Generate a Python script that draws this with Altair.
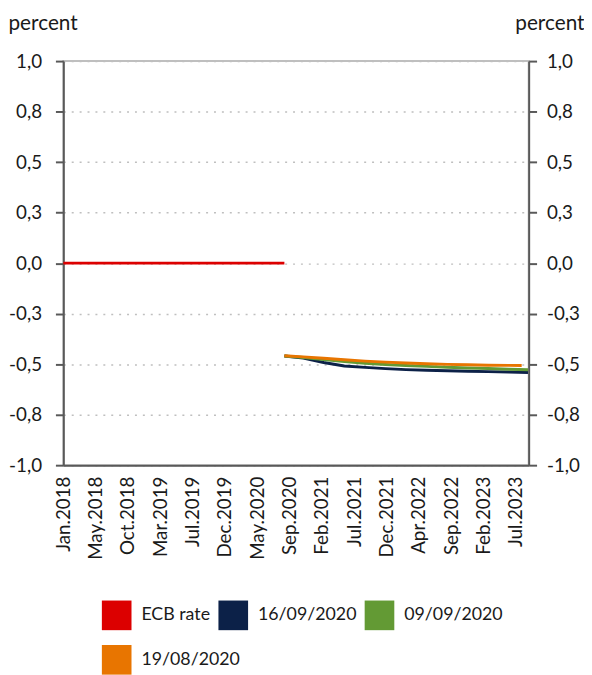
import altair as alt
import pandas as pd

# ---- data ----
series_names = ["ECB rate", "16/09/2020", "09/09/2020", "19/08/2020"]
series_colors = ["#DC0000", "#0C2148", "#639A34", "#E87500"]

ecb_dates = ["2018-01-01", "2020-09-08"]
ecb_values = [0.0, 0.0]

fwd_dates = ["2020-09-08", "2020-12-01", "2021-03-01", "2021-06-01", "2021-09-01",
             "2021-12-01", "2022-03-01", "2022-06-01", "2022-09-01", "2022-12-01",
             "2023-03-01", "2023-06-01", "2023-08-25"]
orange_dates = fwd_dates[:-1] + ["2023-07-28"]

navy_values = [-0.460, -0.470, -0.492, -0.509, -0.516, -0.522, -0.527, -0.530,
               -0.533, -0.535, -0.537, -0.539, -0.541]
green_values = [-0.460, -0.467, -0.477, -0.487, -0.495, -0.502, -0.507, -0.511,
                -0.515, -0.519, -0.522, -0.525, -0.528]
orange_values = [-0.458, -0.464, -0.471, -0.478, -0.485, -0.490, -0.494, -0.498,
                 -0.501, -0.503, -0.505, -0.506, -0.507]

tick_dates = ["2018-01-01", "2018-05-24", "2018-10-15", "2019-03-07", "2019-07-29",
              "2019-12-19", "2020-05-10", "2020-09-30", "2021-02-21", "2021-07-15",
              "2021-12-05", "2022-04-27", "2022-09-18", "2023-02-08", "2023-07-01"]
x_domain = ["2018-01-01", "2023-08-28"]
y_ticks = [-1.0, -0.75, -0.5, -0.25, 0.0, 0.25, 0.5, 0.75, 1.0]

# ---- build table ----
rows = []
for d, v in zip(ecb_dates, ecb_values):
    rows.append({"date": d, "value": v, "series": series_names[0]})
for d, v in zip(fwd_dates, navy_values):
    rows.append({"date": d, "value": v, "series": series_names[1]})
for d, v in zip(fwd_dates, green_values):
    rows.append({"date": d, "value": v, "series": series_names[2]})
for d, v in zip(orange_dates, orange_values):
    rows.append({"date": d, "value": v, "series": series_names[3]})
df = pd.DataFrame(rows)


def dt(s):
    y, m, d = (int(p) for p in s.split("-"))
    return alt.DateTime(year=y, month=m, date=d, utc=True)


FONT = "Lato"
TXT = "#1a1a1a"
AX = "#595959"

label_expr_y = "(datum.value < 0 ? '-' : '') + replace(format(abs(datum.value), '.1f'), '.', ',')"

x_enc = alt.X(
    "date:T",
    scale=alt.Scale(domain=[dt(s) for s in x_domain]),
    axis=alt.Axis(
        values=[dt(s) for s in tick_dates],
        labelExpr="utcFormat(datum.value, '%b.%Y')",
        labelAngle=-90, labelAlign="right", labelBaseline="middle",
        ticks=False, grid=False, domainColor=AX, domainWidth=2,
        labelPadding=11, labelFont=FONT, labelFontSize=19, labelColor=TXT,
        labelOverlap=False, title=None,
    ),
)

y_scale = alt.Scale(domain=[-1, 1], nice=False, zero=False)

y_left = alt.Y(
    "value:Q",
    scale=y_scale,
    axis=alt.Axis(
        orient="left", values=y_ticks, labelExpr=label_expr_y,
        grid=True, gridColor="#BFBFBF", gridDash=[2, 6], gridWidth=1.5,
        domainColor=AX, domainWidth=2, tickColor=AX, tickWidth=2, tickSize=8,
        labelPadding=14, labelFont=FONT, labelFontSize=19, labelColor=TXT,
        title="percent", titleAngle=0, titleAlign="left", titleBaseline="alphabetic",
        titleX=-56, titleY=-32, titleFont=FONT, titleFontSize=21,
        titleFontWeight="normal", titleColor=TXT,
    ),
)
y_right = alt.Y(
    "value:Q",
    scale=y_scale,
    axis=alt.Axis(
        orient="right", values=y_ticks, labelExpr=label_expr_y,
        grid=False,
        domainColor=AX, domainWidth=2, tickColor=AX, tickWidth=2, tickSize=8,
        labelPadding=10, labelFont=FONT, labelFontSize=19, labelColor=TXT,
        title="percent", titleAngle=0, titleAlign="right", titleBaseline="alphabetic",
        titleX=56, titleY=-32, titleFont=FONT, titleFontSize=21,
        titleFontWeight="normal", titleColor=TXT,
    ),
)
y_plain = alt.Y("value:Q", scale=y_scale, axis=None)

line_layers = []
for i, (name, col) in enumerate(zip(series_names, series_colors)):
    line_layers.append(
        alt.Chart(df)
        .transform_filter(alt.datum.series == name)
        .mark_line(strokeWidth=3, color=col)
        .encode(x=x_enc, y=y_left if i == 0 else y_plain)
    )


def legend_props(ly):
    return dict(
        orient="none", legendX=39, legendY=ly, direction="horizontal",
        columns=3, symbolType="square", symbolSize=900,
        symbolStrokeWidth=0, symbolOpacity=1, labelFont=FONT, labelFontSize=18,
        labelColor=TXT, labelOffset=10, columnPadding=8, title=None,
    )


row1 = series_names[:3]
row2 = series_names[3:]

keys1 = (
    alt.Chart(df)
    .transform_filter(alt.FieldOneOfPredicate(field="series", oneOf=row1))
    .mark_square(opacity=0, size=10)
    .encode(
        x=x_enc,
        y=y_right,
        fill=alt.Fill(
            "series:N",
            scale=alt.Scale(domain=row1, range=series_colors[:3]),
            legend=alt.Legend(**legend_props(546)),
        ),
    )
)
keys2 = (
    alt.Chart(df)
    .transform_filter(alt.FieldOneOfPredicate(field="series", oneOf=row2))
    .mark_square(opacity=0, size=10)
    .encode(
        x=x_enc,
        y=y_plain,
        color=alt.Color(
            "series:N",
            scale=alt.Scale(domain=row2, range=series_colors[3:]),
            legend=alt.Legend(**legend_props(591)),
        ),
    )
)

chart = (
    alt.layer(*line_layers, keys1, keys2)
    .resolve_scale(y="shared")
    .resolve_axis(y="independent")
    .properties(width=471, height=409,
                padding={"left": 0, "top": 0, "right": 0, "bottom": 110})
    .configure_view(stroke="#BFBFBF", strokeWidth=2)
)

chart.save("out.html", embed_options={"renderer": "svg", "actions": False})
